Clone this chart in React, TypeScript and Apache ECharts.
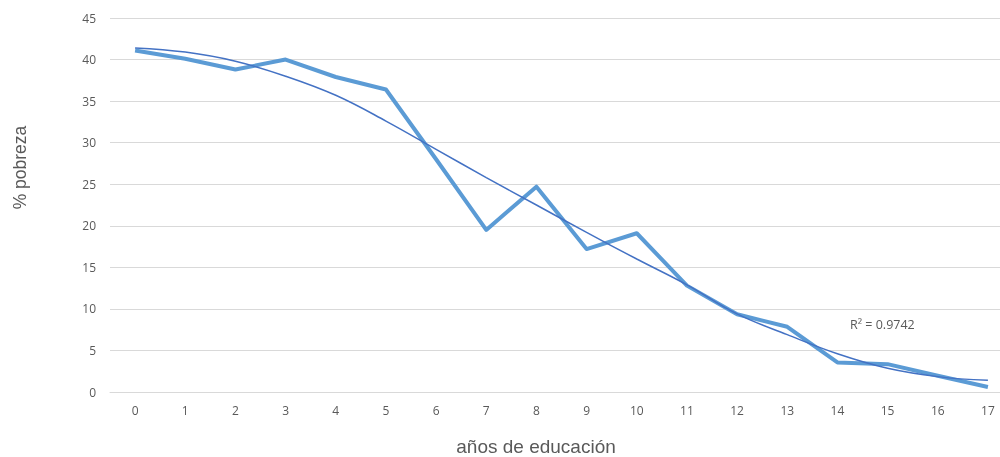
import React, { useEffect, useRef } from "react";
import * as echarts from "echarts";

const categories = ["0", "1", "2", "3", "4", "5", "6", "7", "8", "9", "10", "11", "12", "13", "14", "15", "16", "17"];
const povertyValues = [41.1, 40.1, 38.8, 40.0, 37.9, 36.4, 28.0, 19.5, 24.7, 17.2, 19.1, 12.8, 9.35, 7.85, 3.55, 3.35, 1.95, 0.6];
const trendValues = [41.4, 40.9, 39.8, 38.0, 35.7, 32.6, 29.2, 25.8, 22.5, 19.2, 16.0, 12.9, 9.4, 6.9, 4.6, 2.85, 1.85, 1.4];
const yTicks = { min: 0, max: 45, interval: 5 };
const xTitle = "años de educación";
const yTitle = "% pobreza";
const r2Label = "R² = 0.9742";

export default function App() {
  const ref = useRef<HTMLDivElement>(null);
  useEffect(() => {
    document.body.style.margin = "0";
    const chart = echarts.init(ref.current!, null, { renderer: "svg" });
    const font = "'Liberation Sans', Arial, sans-serif";
    const tickFont = "'Open Sans', 'Noto Sans', sans-serif";
    chart.setOption({
      animation: false,
      grid: { left: 110, top: 18, width: 903, height: 374, containLabel: false },
      xAxis: {
        type: "category",
        data: categories,
        boundaryGap: true,
        axisLine: { lineStyle: { color: "#D9D9D9", width: 1 } },
        axisTick: { show: false },
        axisLabel: { color: "#595959", fontSize: 12, margin: 12, fontFamily: tickFont },
      },
      yAxis: {
        type: "value",
        min: yTicks.min,
        max: yTicks.max,
        interval: yTicks.interval,
        axisLine: { show: false },
        axisTick: { show: false },
        axisLabel: { color: "#595959", fontSize: 12, margin: 14, fontFamily: tickFont },
        splitLine: { lineStyle: { color: "#D9D9D9", width: 1 } },
      },
      series: [
        {
          type: "line",
          data: povertyValues,
          symbol: "none",
          lineStyle: { color: "#5B9BD5", width: 4, join: "round" },
          z: 2,
        },
        {
          type: "line",
          data: trendValues,
          symbol: "none",
          smooth: 0.4,
          lineStyle: { color: "#4472C4", width: 1.5 },
          z: 3,
        },
      ],
      graphic: [
        {
          type: "text",
          x: 19.5,
          y: 167.5,
          rotation: Math.PI / 2,
          style: {
            text: yTitle,
            fill: "#595959",
            font: `17.5px ${font}`,
            align: "center",
            verticalAlign: "middle",
          },
        },
        {
          type: "text",
          x: 536,
          y: 446,
          style: {
            text: xTitle,
            fill: "#595959",
            font: `19px ${font}`,
            align: "center",
            verticalAlign: "middle",
          },
        },
        {
          type: "text",
          x: 850,
          y: 324,
          style: {
            text: r2Label,
            fill: "#595959",
            font: `12.5px ${tickFont}`,
            align: "left",
            verticalAlign: "middle",
          },
        },
      ],
    });
    return () => chart.dispose();
  }, []);
  return (
    <div style={{ position: "fixed", left: 0, top: 0, width: 1000, height: 457, overflow: "hidden" }}>
      <div ref={ref} style={{ width: 1020, height: 457 }} />
    </div>
  );
}
